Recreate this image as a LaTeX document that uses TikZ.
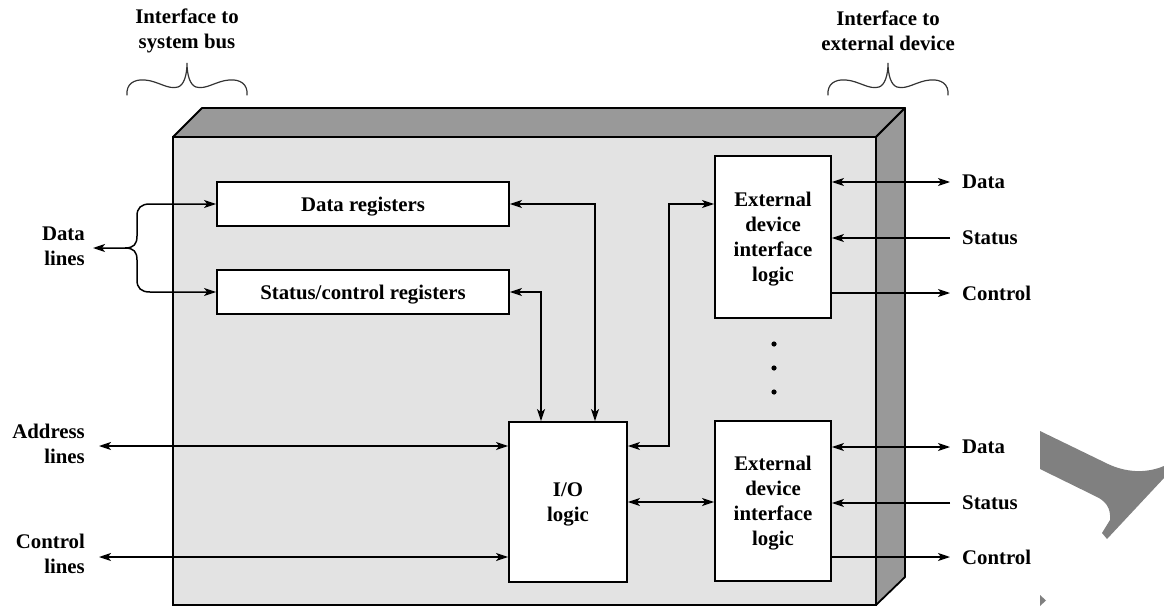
\documentclass[tikz,border=0pt]{standalone}
\usepackage{fontspec}
\setmainfont{Liberation Serif}
\usetikzlibrary{arrows.meta,calc}

\definecolor{faceFront}{RGB}{227,227,227}
\definecolor{faceSide}{RGB}{153,153,153}
\definecolor{inkGray}{RGB}{128,128,128}

\begin{document}
\begin{tikzpicture}[x=1pt,y=-1pt,
  lbl/.style={font=\fontsize{20.8}{25}\selectfont\bfseries, inner sep=0pt},
  box/.style={lbl, draw, line width=1.8pt, fill=white, align=center, text depth=0pt},
  tip/.tip={Stealth[length=12pt,width=8pt,inset=3pt]},
  wire/.style={line width=1.5pt},
  both/.style={wire, tip-tip},
  fwd/.style={wire, -tip},
  bracepath/.style={line width=1.2pt, draw=black!80, line cap=round},
]
\useasboundingbox (0,0) rectangle (1164,607);

% --- module casing (front, top and side faces) ---
\filldraw[fill=faceFront, line width=1.8pt] (173,137) rectangle (876,605);
\filldraw[fill=faceSide, line width=1.8pt, line join=round]
  (173,137) -- (202,108) -- (905,108) -- (876,137) -- cycle;
\filldraw[fill=faceSide, line width=1.8pt, line join=round]
  (876,137) -- (905,108) -- (905,577) -- (876,605) -- cycle;

% --- functional blocks ---
\node[box, minimum width=292pt, minimum height=44pt] (dreg) at (363,204) {Data registers};
\node[box, minimum width=292pt, minimum height=44pt] (sreg) at (363,292) {Status/control registers};
\node[box, minimum width=118pt, minimum height=160pt] (io) at (568,502) {I/O\\logic};
\node[box, minimum width=116pt, minimum height=162pt] (edilA) at (773,237) {External\\device\\interface\\logic};
\node[box, minimum width=116pt, minimum height=160pt] (edilB) at (773,501) {External\\device\\interface\\logic};

% ellipsis between the device interfaces
\foreach \yy in {344,368,392} \fill (774,\yy) circle (2.6pt);

% --- system-bus side ---
\node[lbl, anchor=east, align=right] (dataL) at (85,246) {Data\\lines};
\node[lbl, anchor=east, align=right] (addrL) at (85,444) {Address\\lines};
\node[lbl, anchor=east, align=right] (ctrlL) at (85,554) {Control\\lines};

\coordinate (dl) at (93,248);
\coordinate (split) at (125,248);
\coordinate (al) at (99,446);
\coordinate (cl) at (99,557);

\draw[both] (dl) -- (split) .. controls (134,248) and (137,244) .. (137,236)
  -- (137,216) .. controls (137,208) and (141,204) .. (150,204) -- (dreg.west);
\draw[fwd] (split) .. controls (134,248) and (137,252) .. (137,260)
  -- (137,280) .. controls (137,288) and (141,292) .. (150,292) -- (sreg.west);

\draw[both] (al) -- (al -| io.west);
\draw[both] (cl) -- (cl -| io.west);

% --- internal paths ---
\draw[both] (dreg.east) -| ([xshift=27pt]io.north);
\draw[both] (sreg.east) -| ([xshift=-27pt]io.north);
\coordinate (jog) at (669,446);
\draw[both] (io.east |- jog) -- (jog) |- (edilA.west |- dreg.east);
\draw[both] (io.east) -- (edilB.west |- io.east);

% --- external-device side ---
\foreach \nm/\yy in {rA1/182,rA2/238,rA3/293,rB1/447,rB2/503,rB3/557}
  \coordinate (\nm) at (950,\yy);

\draw[both] (edilA.east |- rA1) -- (rA1);
\draw[fwd] (rA2) -- (edilA.east |- rA2);
\draw[fwd] (edilA.east |- rA3) -- (rA3);
\draw[both] (edilB.east |- rB1) -- (rB1);
\draw[fwd] (rB2) -- (edilB.east |- rB2);
\draw[fwd] (edilB.east |- rB3) -- (rB3);

\node[lbl, anchor=west] (tA1) at ([xshift=12pt]rA1) {Data};
\node[lbl, anchor=west] (tA2) at ([xshift=12pt]rA2) {Status};
\node[lbl, anchor=west] (tA3) at ([xshift=12pt]rA3) {Control};
\node[lbl, anchor=west] (tB1) at ([xshift=12pt]rB1) {Data};
\node[lbl, anchor=west] (tB2) at ([xshift=12pt]rB2) {Status};
\node[lbl, anchor=west] (tB3) at ([xshift=12pt]rB3) {Control};

% --- interface captions with braces ---
\node[lbl, align=center] (capSys) at (187,31) {Interface to\\system bus};
\node[lbl, align=center] (capExt) at (888,31) {Interface to\\external device};

\foreach \cx in {187,888}{
  \draw[bracepath]
    (\cx-60,95) .. controls (\cx-61,84) and (\cx-53,79) .. (\cx-42,80)
    .. controls (\cx-29,81) and (\cx-19,90) .. (\cx-9,87)
    .. controls (\cx-3,85) and (\cx,75) .. (\cx,63)
    .. controls (\cx,75) and (\cx+3,85) .. (\cx+9,87)
    .. controls (\cx+19,90) and (\cx+29,81) .. (\cx+42,80)
    .. controls (\cx+53,79) and (\cx+61,84) .. (\cx+60,95);
}

% --- grey marks at the lower right ---
\fill[inkGray] (1040,431) -- (1108,464) .. controls (1125,472) and (1145,474) .. (1164,466)
  -- (1164,478) -- (1107,539) -- (1102,533) -- (1110,520)
  .. controls (1111,508) and (1106,501) .. (1095,496) -- (1040,469) -- cycle;
\fill[inkGray] (1040,595) -- (1046,600.5) -- (1040,606) -- cycle;
\end{tikzpicture}
\end{document}
